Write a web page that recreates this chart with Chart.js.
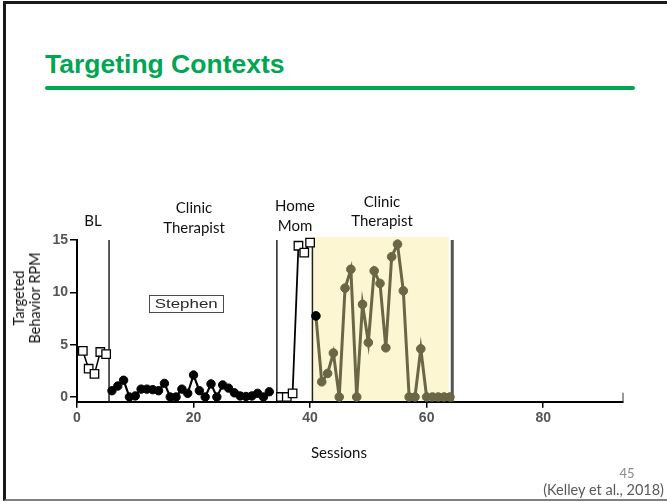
<!DOCTYPE html>
<html>
<head>
<meta charset="utf-8">
<script src="https://cdn.jsdelivr.net/npm/chart.js@4.4.1/dist/chart.umd.min.js"></script>
<style>
  html, body { margin: 0; padding: 0; background: #fff; }
  body { width: 667px; height: 502px; position: relative; overflow: hidden; font-family: Lato, "Open Sans", sans-serif; }
  #frame { position: absolute; left: 3px; top: 1px; width: 664px; height: 495px;
           border-top: 3px solid #1a1a1a; border-left: 3px solid #1a1a1a; border-bottom: 2px solid #808080; box-sizing: content-box; }
  #title { position: absolute; left: 45px; top: 51px; font-family: "Liberation Sans", Arial, sans-serif; font-weight: bold;
           font-size: 26.5px; line-height: 26px; color: #00a651; white-space: nowrap; }
  #rule { position: absolute; left: 45px; top: 86px; width: 590px; height: 4px; background: #00a651; border-radius: 2px; }
  #wrap { position: absolute; left: 0; top: 225px; width: 650px; height: 250px; }
  .t { position: absolute; white-space: nowrap; transform: translate(-50%, -50%); line-height: 1; color: #111; font-size: 15px; }
  #ytitle { position: absolute; left: 27px; top: 298px; transform: translate(-50%, -50%) rotate(-90deg); text-align: center;
            font-size: 14.5px; line-height: 16px; color: #111; white-space: nowrap; }
  #stephen { position: absolute; left: 149px; top: 295px; width: 73px; height: 16px; border: 1.5px solid #4a4a4a;
             font-family: "Liberation Sans", Arial, sans-serif; font-size: 13px; line-height: 16px; color: #2a2a2a; text-align: center; }
  #stephen span { display: inline-block; transform: scaleX(1.3); }
  #page { color: #8a8a8a; font-size: 13px; }
  #cite { position: absolute; right: 3px; top: 482px; color: #595959; font-size: 14.5px; line-height: 15px; white-space: nowrap; }
</style>
</head>
<body>
<div id="frame"></div>
<div id="title">Targeting Contexts</div>
<div id="rule"></div>

<div id="wrap"><canvas id="c" width="650" height="250"></canvas></div>

<div class="t" style="left:93px; top:220px;">BL</div>
<div class="t" style="left:194px; top:207px;">Clinic</div>
<div class="t" style="left:194px; top:227px;">Therapist</div>
<div class="t" style="left:295px; top:205px;">Home</div>
<div class="t" style="left:295px; top:225px;">Mom</div>
<div class="t" style="left:382px; top:201px;">Clinic</div>
<div class="t" style="left:382px; top:220px;">Therapist</div>
<div id="stephen"><span>Stephen</span></div>
<div id="ytitle">Targeted<br>Behavior RPM</div>
<div class="t" style="left:339px; top:452px;">Sessions</div>
<div class="t" id="page" style="left:627px; top:473px;">45</div>
<div id="cite">(Kelley et al., 2018)</div>

<script>
// ---- data ----
const blSessions = [1, 2, 3, 4, 5];
const blRPM = [4.4, 2.7, 2.2, 4.3, 4.1];

const clinicSessions = [6, 7, 8, 9, 10, 11, 12, 13, 14, 15, 16, 17, 18, 19, 20, 21, 22, 23, 24, 25, 26, 27, 28, 29, 30, 31, 32, 33];
const clinicRPM = [0.6, 1.05, 1.6, 0, 0.1, 0.75, 0.75, 0.7, 0.6, 1.3, 0, 0, 0.75, 0.35, 2.1, 0.6, 0, 1.25, 0, 1.15, 0.85, 0.4, 0.1, 0.05, 0.1, 0.35, 0, 0.5];

const homeSessions = [35, 36, 37, 38, 39, 40];
const homeRPM = [0, 0, 0.35, 14.45, 13.8, 14.75];

const clinic2Sessions = [41, 42, 43, 44, 45, 46, 47, 48, 49, 50, 51, 52, 53, 54, 55, 56, 57, 58, 59, 60, 61, 62, 63, 64];
const clinic2RPM = [7.75, 1.45, 2.25, 4.2, 0, 10.4, 12.2, 0, 8.85, 5.2, 12.05, 10.85, 4.7, 13.4, 14.6, 10.15, 0, 0, 4.6, 0, 0, 0, 0, 0];

const phaseChanges = [5.5, 34.3, 40.4, 64.4];
const shadedFrom = 40.4;
const shadedTo = 63.8;

const xTicks = [0, 20, 40, 60, 80];
const yTicks = [0, 5, 10, 15];

// ---- drawing ----
const pts = (xs, ys) => xs.map((x, i) => ({ x: x, y: ys[i] }));
const OLIVE = '#6b6645';

const phasePlugin = {
  id: 'phases',
  beforeDatasetsDraw(chart) {
    const { ctx, chartArea: a, scales: { x, y } } = chart;
    ctx.save();
    const sx0 = x.getPixelForValue(shadedFrom), sx1 = x.getPixelForValue(shadedTo);
    const sTop = y.getPixelForValue(15.3);
    ctx.fillStyle = '#fdf6d3';
    ctx.fillRect(sx0, sTop, sx1 - sx0, a.bottom - 1 - sTop);
    const yTop = y.getPixelForValue(15);
    phaseChanges.forEach((v, i) => {
      const px = x.getPixelForValue(v);
      ctx.beginPath();
      ctx.strokeStyle = i === phaseChanges.length - 1 ? '#555' : '#222';
      ctx.lineWidth = i === phaseChanges.length - 1 ? 3 : 1.5;
      ctx.moveTo(px, yTop);
      ctx.lineTo(px, a.bottom);
      ctx.stroke();
    });
    const ex = x.getPixelForValue(x.max);
    ctx.beginPath();
    ctx.strokeStyle = '#333';
    ctx.lineWidth = 1;
    ctx.moveTo(ex, a.bottom - 9);
    ctx.lineTo(ex, a.bottom);
    ctx.stroke();
    ctx.restore();
  }
};

new Chart(document.getElementById('c'), {
  type: 'line',
  data: {
    datasets: [
      { data: pts(blSessions, blRPM), borderColor: '#000', borderWidth: 1.5, pointStyle: 'rect', pointRadius: 6,
        pointBackgroundColor: '#fff', pointBorderColor: '#000', pointBorderWidth: 1.3, tension: 0, clip: false },
      { data: pts(clinicSessions, clinicRPM), borderColor: '#000', borderWidth: 2.2, pointStyle: 'circle', pointRadius: 4.2,
        pointBackgroundColor: '#000', pointBorderColor: '#000', pointBorderWidth: 1, tension: 0, clip: false },
      { data: pts(homeSessions, homeRPM), borderColor: '#000', borderWidth: 1.8, pointStyle: 'rect', pointRadius: 6,
        pointBackgroundColor: '#fff', pointBorderColor: '#000', pointBorderWidth: 1.3, tension: 0, clip: false },
      { data: pts(clinic2Sessions, clinic2RPM), borderColor: OLIVE, borderWidth: 3, pointStyle: 'circle', pointRadius: 4.3,
        pointBackgroundColor: c => c.dataIndex === 0 ? '#000' : OLIVE,
        pointBorderColor: c => c.dataIndex === 0 ? '#000' : OLIVE,
        pointBorderWidth: 1, tension: 0, clip: false }
    ]
  },
  options: {
    responsive: false,
    animation: false,
    layout: { padding: { left: 0, right: 27, top: 15, bottom: 0 } },
    plugins: { legend: { display: false }, tooltip: { enabled: false }, title: { display: false } },
    scales: {
      x: {
        type: 'linear', min: 0, max: 93.7,
        afterBuildTicks: s => { s.ticks = xTicks.map(v => ({ value: v })); },
        afterFit: s => { s.height = 73.3; },
        grid: { drawOnChartArea: false, drawTicks: true, color: '#000', tickLength: 6, lineWidth: 1.5 },
        border: { display: true, color: '#000', width: 2 },
        ticks: { color: '#555', padding: 2, maxRotation: 0, autoSkip: false,
                 font: { family: 'Liberation Sans', size: 14, weight: 'bold' } }
      },
      y: {
        type: 'linear', min: -0.45, max: 15,
        afterBuildTicks: s => { s.ticks = yTicks.map(v => ({ value: v })); },
        afterFit: s => { s.width = 77; },
        grid: { drawOnChartArea: false, drawTicks: true, color: '#000', tickLength: 7, lineWidth: 1.5 },
        border: { display: true, color: '#000', width: 2 },
        ticks: { color: '#555', padding: 2, autoSkip: false,
                 font: { family: 'Liberation Sans', size: 14, weight: 'bold' } }
      }
    }
  },
  plugins: [phasePlugin]
});
</script>
</body>
</html>
